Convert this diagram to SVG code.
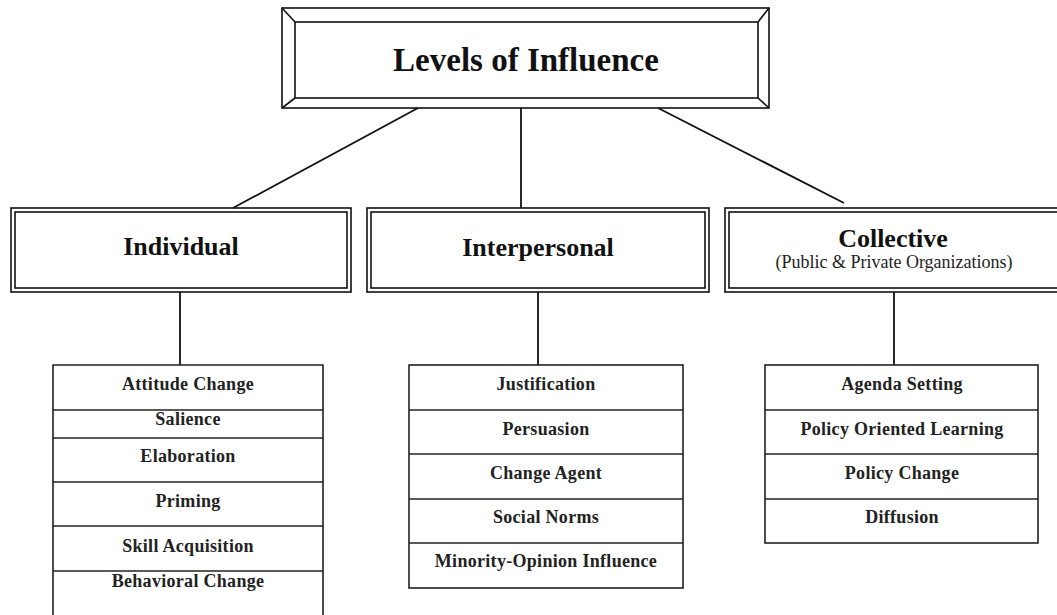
<svg xmlns="http://www.w3.org/2000/svg" width="1057" height="615" viewBox="0 0 1057 615">
<style>
.ln{stroke:#111;stroke-width:1.8;fill:none}
.bx{stroke:#111;stroke-width:1.6;fill:none}
.cell{stroke:#222;stroke-width:1.6;fill:#fff}
.t1{font-family:"Liberation Serif","Times New Roman",serif;font-weight:bold;font-size:33px;fill:#111;text-anchor:middle}
.t2{font-family:"Liberation Serif","Times New Roman",serif;font-weight:bold;font-size:26px;fill:#111;text-anchor:middle}
.t3{font-family:"Liberation Serif","Times New Roman",serif;font-size:18px;fill:#222;text-anchor:middle}
.it{font-family:"Liberation Serif","Times New Roman",serif;font-weight:bold;font-size:18px;fill:#222;text-anchor:middle;letter-spacing:0.3px}
</style>
<rect width="1057" height="615" fill="#fff"/>
<g id="connectors">
<line class="ln" x1="418" y1="108" x2="233" y2="208"/>
<line class="ln" x1="521" y1="108" x2="521" y2="208"/>
<line class="ln" x1="658" y1="108" x2="844" y2="203"/>
<line class="ln" x1="180" y1="292" x2="180" y2="365"/>
<line class="ln" x1="538" y1="292" x2="538" y2="365"/>
<line class="ln" x1="894" y1="292" x2="894" y2="365"/>
</g>
<g id="levels-of-influence">
<rect x="282" y="8" width="487" height="100" fill="#fff" class="bx"/>
<rect x="295" y="22" width="463" height="76" class="bx"/>
<line class="bx" x1="282" y1="8" x2="295" y2="22"/>
<line class="bx" x1="769" y1="8" x2="758" y2="22"/>
<line class="bx" x1="282" y1="108" x2="295" y2="98"/>
<line class="bx" x1="769" y1="108" x2="758" y2="98"/>
<text class="t1" x="526" y="71">Levels of Influence</text>
</g>
<g id="individual">
<rect x="11" y="208" width="340" height="84" fill="#fff" class="bx"/>
<rect x="15" y="212" width="332" height="76" class="bx"/>
<text class="t2" x="181" y="255">Individual</text>
</g>
<g id="interpersonal">
<rect x="367" y="208" width="342" height="84" fill="#fff" class="bx"/>
<rect x="371" y="212" width="334" height="76" class="bx"/>
<text class="t2" x="538" y="256">Interpersonal</text>
</g>
<g id="collective">
<rect x="725" y="208" width="340" height="84" fill="#fff" class="bx"/>
<rect x="729" y="212" width="332" height="76" class="bx"/>
<text class="t2" x="893" y="247">Collective</text>
<text class="t3" x="894" y="268">(Public &amp; Private Organizations)</text>
</g>
<g id="individual-list">
<path class="cell" d="M53,620 V365 H323 V620"/>
<line class="cell" x1="53" y1="410" x2="323" y2="410"/>
<line class="cell" x1="53" y1="438" x2="323" y2="438"/>
<line class="cell" x1="53" y1="482" x2="323" y2="482"/>
<line class="cell" x1="53" y1="526" x2="323" y2="526"/>
<line class="cell" x1="53" y1="571" x2="323" y2="571"/>
<text class="it" x="188" y="390">Attitude Change</text>
<text class="it" x="188" y="425">Salience</text>
<text class="it" x="188" y="462">Elaboration</text>
<text class="it" x="188" y="507">Priming</text>
<text class="it" x="188" y="552">Skill Acquisition</text>
<text class="it" x="188" y="587">Behavioral Change</text>
</g>
<g id="interpersonal-list">
<rect class="cell" x="409" y="365" width="274" height="223"/>
<line class="cell" x1="409" y1="410" x2="683" y2="410"/>
<line class="cell" x1="409" y1="454" x2="683" y2="454"/>
<line class="cell" x1="409" y1="499" x2="683" y2="499"/>
<line class="cell" x1="409" y1="543" x2="683" y2="543"/>
<text class="it" x="546" y="390">Justification</text>
<text class="it" x="546" y="435">Persuasion</text>
<text class="it" x="546" y="479">Change Agent</text>
<text class="it" x="546" y="523">Social Norms</text>
<text class="it" x="546" y="567">Minority-Opinion Influence</text>
</g>
<g id="collective-list">
<rect class="cell" x="765" y="365" width="273" height="178"/>
<line class="cell" x1="765" y1="410" x2="1038" y2="410"/>
<line class="cell" x1="765" y1="454" x2="1038" y2="454"/>
<line class="cell" x1="765" y1="499" x2="1038" y2="499"/>
<text class="it" x="902" y="390">Agenda Setting</text>
<text class="it" x="902" y="435">Policy Oriented Learning</text>
<text class="it" x="902" y="479">Policy Change</text>
<text class="it" x="902" y="523">Diffusion</text>
</g>
</svg>
